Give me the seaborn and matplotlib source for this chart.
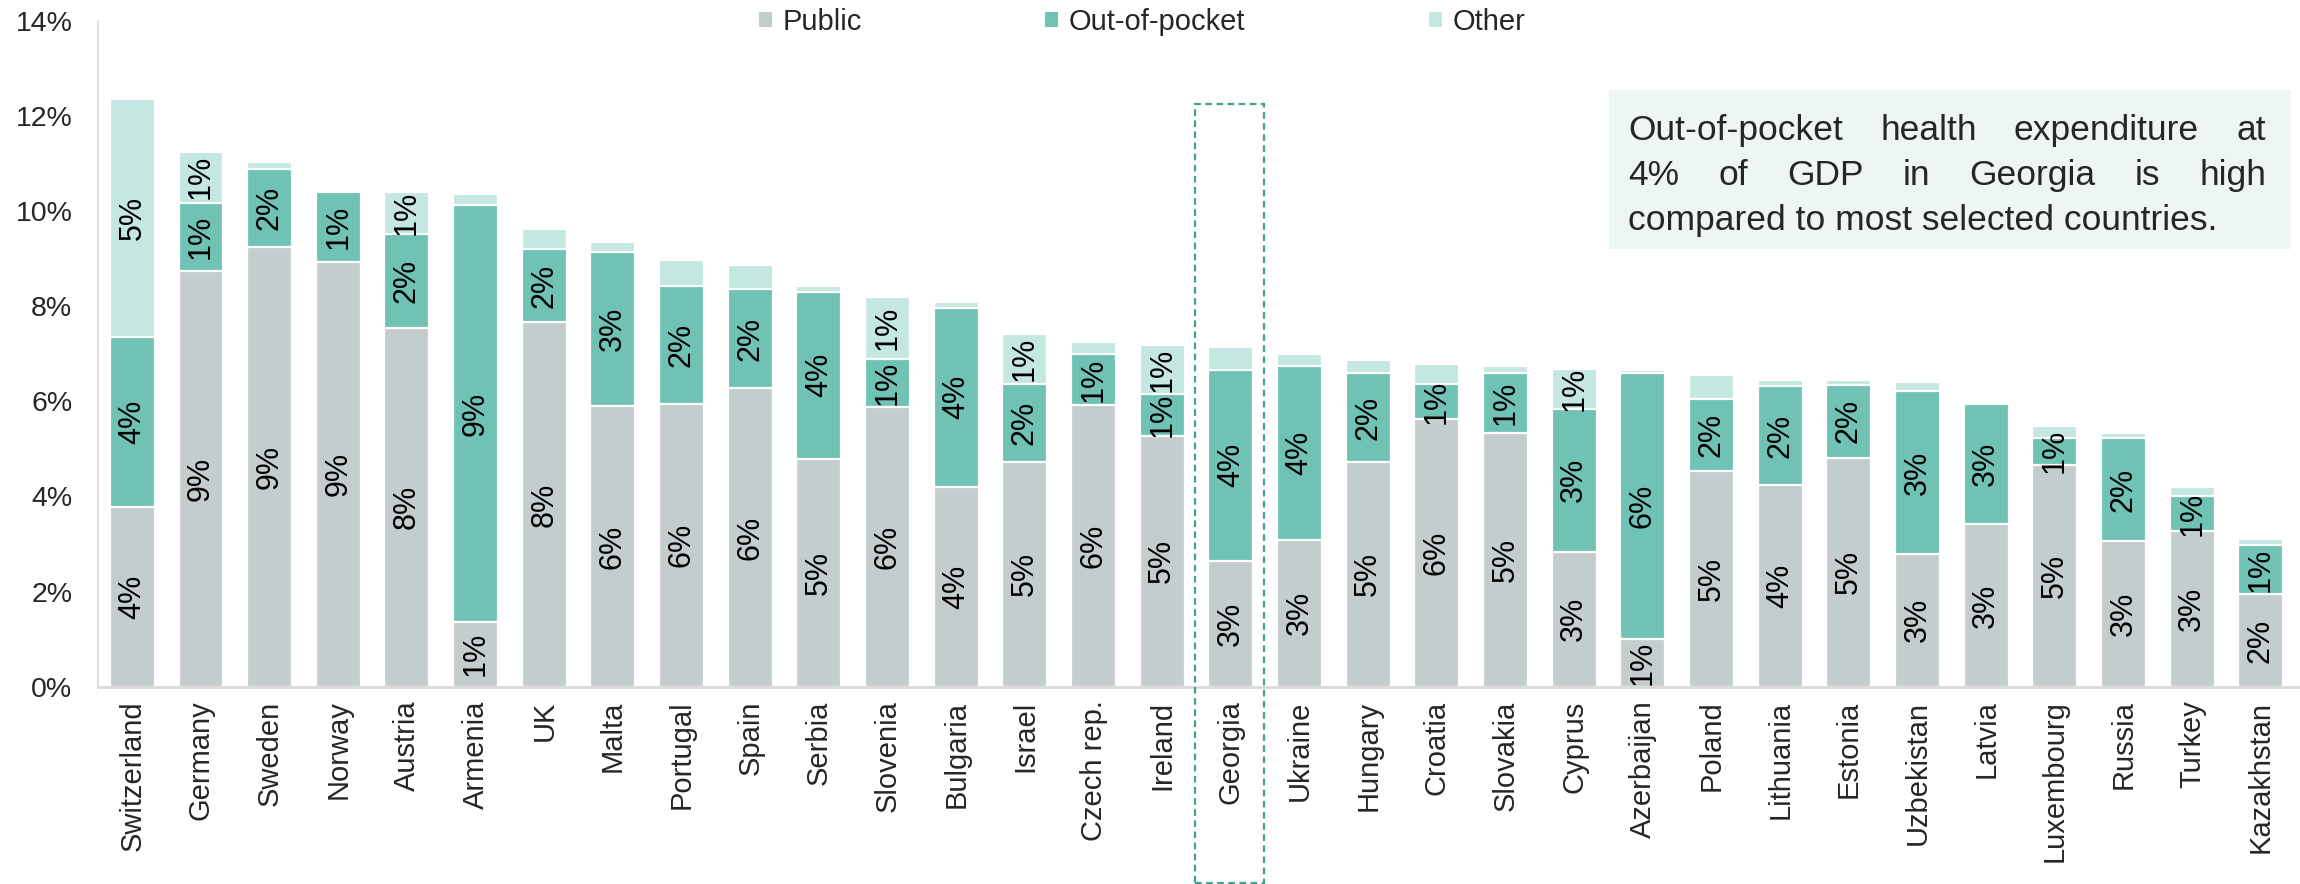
import numpy as np
import pandas as pd
import matplotlib
matplotlib.use("Agg")
import matplotlib.pyplot as plt
import seaborn as sns
from matplotlib.patches import Rectangle, Patch

# ---------------- data ----------------
countries = ["Switzerland", "Germany", "Sweden", "Norway", "Austria", "Armenia", "UK",
             "Malta", "Portugal", "Spain", "Serbia", "Slovenia", "Bulgaria", "Israel",
             "Czech rep.", "Ireland", "Georgia", "Ukraine", "Hungary", "Croatia",
             "Slovakia", "Cyprus", "Azerbaijan", "Poland", "Lithuania", "Estonia",
             "Uzbekistan", "Latvia", "Luxembourg", "Russia", "Turkey", "Kazakhstan"]
public = [3.77, 8.75, 9.24, 8.94, 7.55, 1.37, 7.66, 5.90, 5.95, 6.28, 4.79, 5.89,
          4.20, 4.73, 5.92, 5.28, 2.65, 3.09, 4.73, 5.62, 5.34, 2.84, 1.01, 4.53,
          4.24, 4.82, 2.79, 3.42, 4.66, 3.06, 3.28, 1.94]
out_of_pocket = [3.58, 1.43, 1.65, 1.47, 1.98, 8.75, 1.54, 3.24, 2.48, 2.08, 3.52, 1.00,
                 3.77, 1.63, 1.08, 0.87, 4.01, 3.65, 1.86, 0.75, 1.26, 3.00, 5.59, 1.52,
                 2.08, 1.52, 3.43, 2.52, 0.58, 2.16, 0.73, 1.04]
other = [5.00, 1.07, 0.14, 0.03, 0.87, 0.25, 0.43, 0.21, 0.55, 0.51, 0.12, 1.30,
         0.12, 1.05, 0.24, 1.04, 0.49, 0.26, 0.28, 0.42, 0.14, 0.84, 0.05, 0.51,
         0.13, 0.12, 0.19, 0.04, 0.24, 0.12, 0.20, 0.13]
y_ticks = [0, 2, 4, 6, 8, 10, 12, 14]
series_names = ["Public", "Out-of-pocket", "Other"]
highlight_country = "Georgia"
note_lines = ["Out-of-pocket health expenditure at",
              "4% of GDP in Georgia is high",
              "compared to most selected countries."]

# ---------------- style ----------------
C_PUB = "#C4CDCD"
C_OOP = "#70C2B4"
C_OTH = "#C5E7E1"
C_BOX = "#EDF6F4"
C_DASH = "#3FA390"
C_SPINE = "#D9D9D9"

sns.set_style("white")
plt.rcParams["font.family"] = ["Liberation Sans", "DejaVu Sans"]

W, H = 2300, 884
fig = plt.figure(figsize=(W / 100, H / 100), dpi=100)
ax_left, ax_right, ax_top, ax_bot = 98, 2300, 21, 686.7
ax = fig.add_axes([ax_left / W, (H - ax_bot) / H, (ax_right - ax_left) / W, (ax_bot - ax_top) / H])

df = pd.DataFrame({"country": countries, "public": public,
                   "oop": out_of_pocket, "other": other})
df["lvl2"] = df["public"] + df["oop"]
df["lvl3"] = df["lvl2"] + df["other"]

bar_kw = dict(order=countries, width=0.655, edgecolor="white", linewidth=1.6,
              saturation=1, errorbar=None, ax=ax)
sns.barplot(data=df, x="country", y="lvl3", color=C_OTH, **bar_kw)
sns.barplot(data=df, x="country", y="lvl2", color=C_OOP, **bar_kw)
sns.barplot(data=df, x="country", y="public", color=C_PUB, **bar_kw)

# segment labels
LBL = 22
for i, (p, o, t) in enumerate(zip(public, out_of_pocket, other)):
    ax.text(i, p / 2, f"{p:.0f}%", rotation=90, ha="center", va="center", fontsize=LBL, color="black")
    ax.text(i, p + o / 2, f"{o:.0f}%", rotation=90, ha="center", va="center", fontsize=LBL, color="black")
    if t >= 0.7:
        ax.text(i, p + o + t / 2, f"{t:.0f}%", rotation=90, ha="center", va="center", fontsize=LBL, color="black")

ax.set_xlim(-0.5, 31.57)
ax.set_ylim(0, 14)
ax.set_yticks(y_ticks)
ax.set_yticklabels([f"{v}%" for v in y_ticks])
ax.set_xlabel("")
ax.set_ylabel("")
ax.tick_params(axis="y", length=0, pad=18.5, labelsize=20.5)
ax.tick_params(axis="x", length=0, pad=10, labelsize=21, labelrotation=90)
for s in ["top", "right"]:
    ax.spines[s].set_visible(False)
ax.spines["left"].set_color(C_SPINE)
ax.spines["left"].set_linewidth(1.2)
ax.spines["bottom"].set_color(C_SPINE)
ax.spines["bottom"].set_linewidth(2)
ax.grid(False)

# highlight box around Georgia
idx = countries.index(highlight_country)
y_bot = ax.transData.inverted().transform((0, 1))[1]
ax.add_patch(Rectangle((idx - 0.52, y_bot), 1.0, 12.25 - y_bot, fill=False,
                       edgecolor=C_DASH, linestyle=(0, (3, 2)), linewidth=1.6,
                       clip_on=False, zorder=6))

# legend
handles = [Patch(facecolor=c, edgecolor="none") for c in (C_PUB, C_OOP, C_OTH)]
fig.legend(handles, series_names, loc="center", bbox_to_anchor=(1142 / W, 1 - 22 / H),
           ncol=3, frameon=False, fontsize=21, columnspacing=6.3,
           handlelength=0.45, handleheight=0.45, handletextpad=0.35,
           borderaxespad=0, borderpad=0)

# note box with justified text
fig.add_artist(Rectangle((1609 / W, 1 - 249 / H), (2291 - 1609) / W, (249 - 90) / H,
                         transform=fig.transFigure, facecolor=C_BOX, edgecolor="none", zorder=1))
renderer = fig.canvas.get_renderer()
x_l, x_r = 1628, 2266
baselines = [140, 185, 230]
NOTE_FS = 25.5
for li, line in enumerate(note_lines):
    y = 1 - baselines[li] / H
    if li < len(note_lines) - 1:
        words = line.split()
        arts = [fig.text(0, y, w, fontsize=NOTE_FS, va="baseline", ha="left", zorder=2) for w in words]
        widths = [a.get_window_extent(renderer).width for a in arts]
        gap = (x_r - x_l - sum(widths)) / (len(words) - 1)
        x = x_l
        for a, wd in zip(arts, widths):
            a.set_x(x / W)
            x += wd + gap
    else:
        fig.text(x_l / W, y, line, fontsize=NOTE_FS, va="baseline", ha="left", zorder=2)

fig.savefig("out.png", dpi=100)
